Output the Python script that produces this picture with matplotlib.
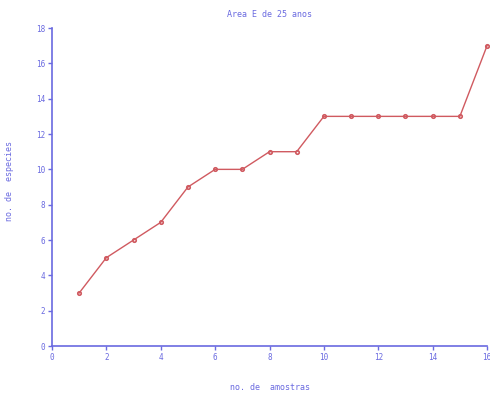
import matplotlib

matplotlib.use("Agg")
import matplotlib.pyplot as plt

samples = list(range(1, 17))
species = [3, 5, 6, 7, 9, 10, 10, 11, 11, 13, 13, 13, 13, 13, 13, 17]
x_ticks = list(range(0, 17, 2))
y_ticks = list(range(0, 19, 2))

blue = "#6a6ae0"
red = "#d05a60"

plt.rcParams["font.family"] = "DejaVu Sans Mono"

fig = plt.figure(figsize=(4.9, 3.95), dpi=100)
ax = fig.add_axes([0.106, 0.124, 0.888, 0.805])
ax.plot(samples, species, color=red, linewidth=1.0, marker="o", markersize=2.5,
        markerfacecolor="none", markeredgecolor=red, markeredgewidth=1.2, clip_on=False)

ax.set_xlim(0, 16)
ax.set_ylim(0, 18)
ax.set_xticks(x_ticks)
ax.set_yticks(y_ticks)
for side in ("top", "right"):
    ax.spines[side].set_visible(False)
for side in ("left", "bottom"):
    ax.spines[side].set_color(blue)
    ax.spines[side].set_linewidth(1.2)
ax.tick_params(colors=blue, labelcolor=blue, labelsize=5.5, length=3, width=1, pad=2)

ax.set_title("Area E de 25 anos", color=blue, fontsize=6, pad=8)
ax.set_xlabel("no. de  amostras", color=blue, fontsize=6)
ax.set_ylabel("no. de  especies", color=blue, fontsize=6)
ax.xaxis.set_label_coords(0.5, -0.115)
ax.yaxis.set_label_coords(-0.087, 0.52)

fig.savefig("out.png", dpi=100)
plt.close(fig)
